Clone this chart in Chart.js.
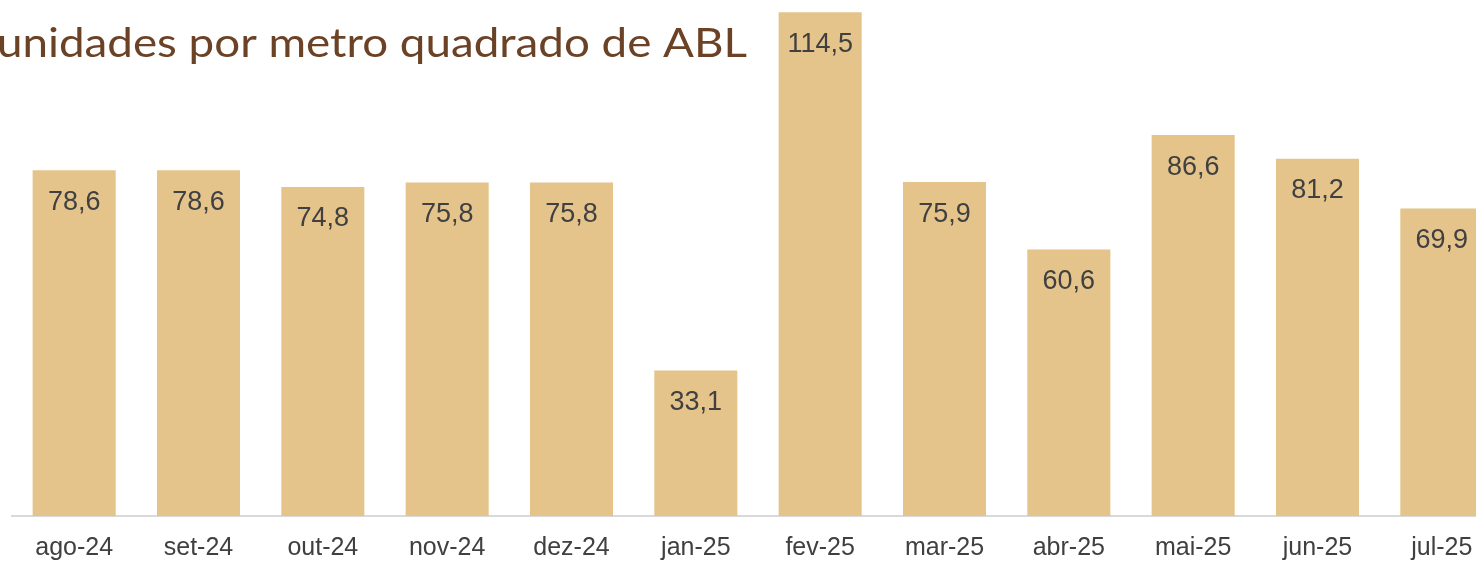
<!DOCTYPE html>
<html>
<head>
<meta charset="utf-8">
<script src="https://cdn.jsdelivr.net/npm/chart.js@4"></script>
<style>
  html, body { margin: 0; padding: 0; background: #fff; overflow: hidden; }
  .wrap { width: 1504px; height: 563px; }
</style>
</head>
<body>
<div class="wrap"><canvas id="volChart"></canvas></div>
<script>
const months = ['ago-24', 'set-24', 'out-24', 'nov-24', 'dez-24', 'jan-25', 'fev-25', 'mar-25', 'abr-25', 'mai-25', 'jun-25', 'jul-25'];
const unitsPerSqm = [78.6, 78.6, 74.8, 75.8, 75.8, 33.1, 114.5, 75.9, 60.6, 86.6, 81.2, 69.9];
const chartTitle = 'unidades por metro quadrado de ABL';

const barLabels = {
  id: 'barLabels',
  afterDatasetsDraw(chart) {
    const ctx = chart.ctx;
    const meta = chart.getDatasetMeta(0);
    ctx.save();
    ctx.font = '27px "Liberation Sans", Arial, sans-serif';
    ctx.fillStyle = '#404040';
    ctx.textAlign = 'center';
    ctx.textBaseline = 'middle';
    meta.data.forEach((bar, i) => {
      const txt = unitsPerSqm[i].toFixed(1).replace('.', ',');
      ctx.fillText(txt, bar.x, bar.y + 32);
    });
    ctx.restore();
  }
};

// title sits over the plot, top-left, slightly cut off by the left edge
const titleText = {
  id: 'titleText',
  afterDraw(chart) {
    const ctx = chart.ctx;
    ctx.save();
    ctx.font = '40px Lato, "Open Sans", sans-serif';
    ctx.fillStyle = '#6B4226';
    ctx.textBaseline = 'alphabetic';
    const w = ctx.measureText(chartTitle).width;
    ctx.translate(-3, 57);
    ctx.scale(750 / w, 1);
    ctx.fillText(chartTitle, 0, 0);
    ctx.restore();
  }
};

const ctx = document.getElementById('volChart').getContext('2d');
new Chart(ctx, {
  type: 'bar',
  data: {
    labels: months,
    datasets: [{
      data: unitsPerSqm,
      backgroundColor: '#E4C48A',
      borderWidth: 0,
      categoryPercentage: 1,
      barPercentage: 0.668
    }]
  },
  options: {
    responsive: true,
    maintainAspectRatio: false,
    animation: false,
    layout: { padding: { left: 12, right: 0, top: 0, bottom: 0 } },
    scales: {
      x: {
        grid: { display: true, color: 'transparent', drawTicks: false },
        border: { display: true, color: '#D9D9D9', width: 2 },
        ticks: {
          color: '#404040',
          font: { family: '"Liberation Sans", Arial, sans-serif', size: 25 },
          padding: 17,
          maxRotation: 0,
          autoSkip: false
        },
        afterFit(scale) { scale.height = 47; }
      },
      y: {
        display: false,
        min: 0,
        max: 117.3
      }
    },
    plugins: {
      legend: { display: false },
      tooltip: { enabled: false }
    }
  },
  plugins: [barLabels, titleText]
});
</script>
</body>
</html>
